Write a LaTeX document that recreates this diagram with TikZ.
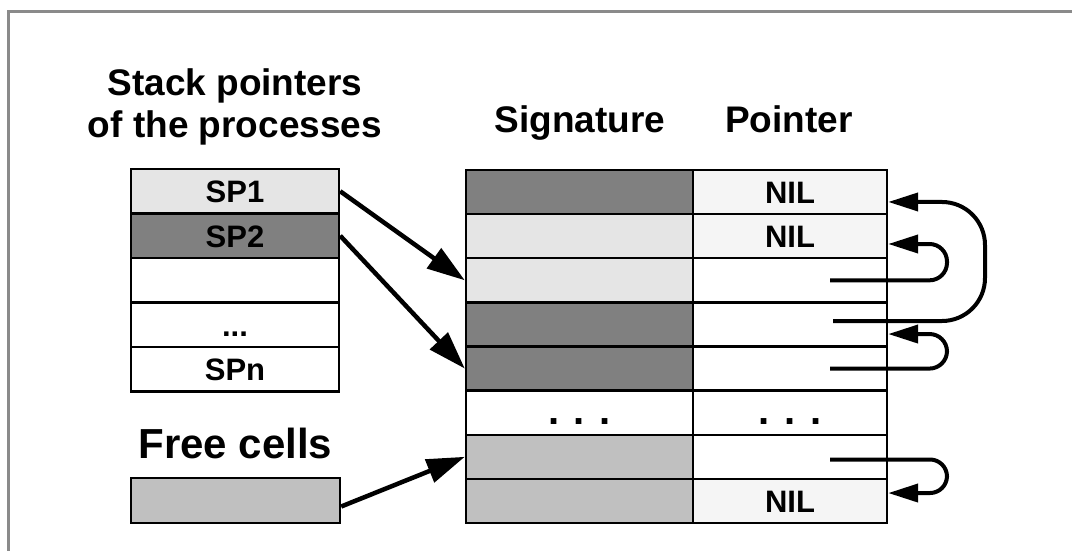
\documentclass[tikz,border=0pt]{standalone}
\usepackage{fontspec}
\setmainfont{Liberation Sans}
\usetikzlibrary{arrows.meta}
\definecolor{cdark}{HTML}{808080}
\definecolor{clight}{HTML}{E5E5E5}
\definecolor{cmid}{HTML}{C0C0C0}
\definecolor{cnil}{HTML}{F5F5F5}
\definecolor{cframe}{HTML}{8A8A8A}
\begin{document}
\begin{tikzpicture}[x=1pt,y=-1pt,
  cell/.style={draw=black, line width=2.4pt, rectangle, inner sep=0pt,
    text height=23pt, text depth=0pt,
    font=\fontsize{31}{36}\selectfont\bfseries},
  spcell/.style={cell, minimum width=208pt, minimum height=44.5pt},
  sigcell/.style={cell, minimum width=227pt, minimum height=44.125pt},
  ptrcell/.style={cell, minimum width=194pt, minimum height=44.125pt},
  gapdots/.style={font=\fontsize{40}{44}\selectfont\bfseries, text height=24pt},
  heading/.style={anchor=base, inner sep=0pt, font=\fontsize{37}{42}\selectfont\bfseries},
  bigheading/.style={anchor=base, inner sep=0pt, font=\fontsize{42}{48}\selectfont\bfseries},
  refarrow/.style={line width=4.5pt, -{Triangle[length=38pt,width=24pt]}},
  link/.style={line width=4pt, -{Triangle[length=30pt,width=18pt]}},
  frameline/.style={draw=cframe, line width=3pt}]
\useasboundingbox (0,0) rectangle (1072,550);

% outer frame (top and left edges)
\draw[frameline] (8,551) -- (8,11.5) -- (1073,11.5);

% headings
\node[heading] (h1) at (235,95) {Stack pointers};
\node[heading] (h2) at (235,137) {of the processes};
\node[heading] (hsig) at (580,132) {Signature};
\node[heading] (hptr) at (789,132) {Pointer};
\node[bigheading] (hfree) at (235.5,458.3) {Free cells};

% stack pointer table
\node[spcell, fill=clight] (sp1) at (235,191.25) {SP1};
\node[spcell, fill=cdark]  (sp2) at (235,235.75) {SP2};
\node[spcell, fill=white]  (sp3) at (235,280.25) {};
\node[spcell, fill=white]  (sp4) at (235,324.75) {...};
\node[spcell, fill=white]  (sp5) at (235,369.25) {SPn};

% free cell list head
\node[cell, fill=cmid, minimum width=209pt, minimum height=45pt] (free) at (235.5,500.5) {};

% signature column
\node[sigcell, fill=cdark]  (s1) at (579.5,192.06) {};
\node[sigcell, fill=clight] (s2) at (579.5,236.19) {};
\node[sigcell, fill=clight] (s3) at (579.5,280.31) {};
\node[sigcell, fill=cdark]  (s4) at (579.5,324.44) {};
\node[sigcell, fill=cdark]  (s5) at (579.5,368.56) {};
\node[sigcell, fill=white, gapdots] (s6) at (579.5,412.69) {. . .};
\node[sigcell, fill=cmid]   (s7) at (579.5,456.81) {};
\node[sigcell, fill=cmid]   (s8) at (579.5,500.94) {};

% pointer column
\node[ptrcell, fill=cnil]  (p1) at (790,192.06) {NIL};
\node[ptrcell, fill=cnil]  (p2) at (790,236.19) {NIL};
\node[ptrcell, fill=white] (p3) at (790,280.31) {};
\node[ptrcell, fill=white] (p4) at (790,324.44) {};
\node[ptrcell, fill=white] (p5) at (790,368.56) {};
\node[ptrcell, fill=white, gapdots] (p6) at (790,412.69) {. . .};
\node[ptrcell, fill=white] (p7) at (790,456.81) {};
\node[ptrcell, fill=cnil]  (p8) at (790,500.94) {NIL};

% stack pointers and free list into the cell table
\draw[refarrow] (sp1.east) -- (s3.west);
\draw[refarrow] (sp2.east) -- (s5.west);
\draw[refarrow] ([yshift=-6pt]free.east) -- (s7.west);

% chain links between pointer cells
\coordinate (l3) at (830,280.31);
\coordinate (l4) at (833,321);
\coordinate (l5) at (830,368.56);
\coordinate (l7) at (830,459.5);
\draw[link, rounded corners=17.5pt] (l3) -- (947,280.31) -- (947,244) -- ([yshift=-7.8pt]p2.east);
\draw[link, rounded corners=43pt] (l4) -- (985,321) -- (985,202) -- ([yshift=-9.9pt]p1.east);
\draw[link, rounded corners=17.5pt] (l5) -- (947,368.56) -- (947,334) -- ([yshift=-9.6pt]p4.east);
\draw[link, rounded corners=17pt] (l7) -- (947,459.5) -- (947,493) -- ([yshift=7.9pt]p8.east);
\end{tikzpicture}
\end{document}
